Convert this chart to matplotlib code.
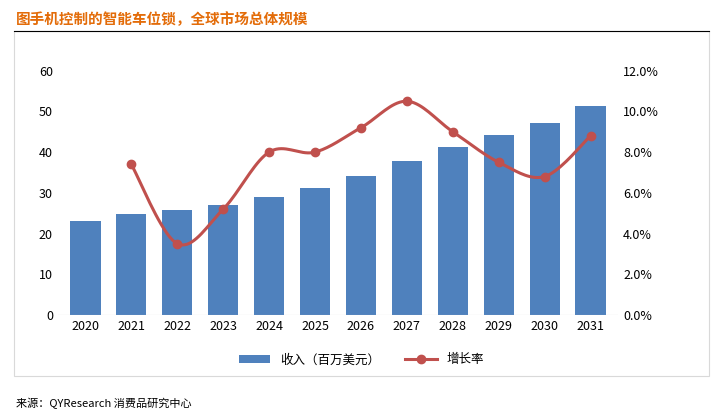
import matplotlib.pyplot as plt
import numpy as np

plt.rcParams['font.family'] = ['Noto Sans CJK SC', 'DejaVu Sans']

years = ['2020', '2021', '2022', '2023', '2024', '2025', '2026', '2027', '2028', '2029', '2030', '2031']
revenue = [23.0, 24.8, 25.8, 27.0, 29.0, 31.3, 34.2, 37.8, 41.2, 44.3, 47.2, 51.3]
growth = [7.4, 3.5, 5.2, 8.0, 8.0, 9.2, 10.5, 9.0, 7.5, 6.8, 8.8]  # % from 2021


def catmull_rom(x, y, n=20):
    # smooth curve through the points, like Excel's smoothed line
    px = np.concatenate([[x[0]], x, [x[-1]]])
    py = np.concatenate([[y[0]], y, [y[-1]]])
    xs, ys = [], []
    for i in range(1, len(px) - 2):
        t = np.linspace(0, 1, n)
        for p, out in ((px, xs), (py, ys)):
            p0, p1, p2, p3 = p[i - 1], p[i], p[i + 1], p[i + 2]
            out.extend(0.5 * (2 * p1 + (-p0 + p2) * t + (2 * p0 - 5 * p1 + 4 * p2 - p3) * t ** 2
                              + (-p0 + 3 * p1 - 3 * p2 + p3) * t ** 3))
    return np.array(xs), np.array(ys)


fig = plt.figure(figsize=(7.23, 4.16), dpi=100)
ax = fig.add_axes([0.08, 0.243, 0.775, 0.587])
x = np.arange(len(years))
ax.bar(x, revenue, width=0.66, color='#4f81bd', label='收入（百万美元）', zorder=2)
ax.set_ylim(0, 60)
ax.set_yticks(range(0, 61, 10))
ax.set_xlim(-0.6, len(years) - 0.4)
ax.set_xticks(x)
ax.set_xticklabels(years)
ax.tick_params(length=0, labelsize=9)
for s in ax.spines.values():
    s.set_visible(False)
ax.axhline(0, color='#bfbfbf', lw=0.8)

ax2 = ax.twinx()
gx = x[1:]
sx, sy = catmull_rom(gx.astype(float), np.array(growth))
ax2.plot(sx, sy, color='#c0504d', lw=2.2, zorder=3)
ax2.plot(gx, growth, 'o', color='#c0504d', ms=6, zorder=4)
ax2.set_ylim(0, 12)
ax2.set_yticks(np.arange(0, 12.1, 2))
ax2.set_yticklabels([f'{v:.1f}%' for v in np.arange(0, 12.1, 2)])
ax2.tick_params(length=0, labelsize=9)
for s in ax2.spines.values():
    s.set_visible(False)
ax2.plot([], [], '-o', color='#c0504d', lw=2.2, ms=6, label='增长率')

h1, l1 = ax.get_legend_handles_labels()
h2, l2 = ax2.get_legend_handles_labels()
fig.legend(h1 + h2, l1 + l2, loc='center', bbox_to_anchor=(0.5, 0.135), ncol=2,
           frameon=False, fontsize=9, handlelength=2.5)

# outer chart frame
fig.patches.append(plt.Rectangle((0.02, 0.095), 0.96, 0.83, transform=fig.transFigure,
                                 fill=False, ec='#d9d9d9', lw=0.8))
fig.text(0.022, 0.955, '图手机控制的智能车位锁，全球市场总体规模', color='#e36c09',
         fontsize=10.5, fontweight='bold', va='center')
fig.add_artist(plt.Line2D([0.02, 0.98], [0.925, 0.925], color='black', lw=0.8))
fig.text(0.022, 0.03, '来源：QYResearch 消费品研究中心', fontsize=8, style='italic', va='center')

fig.savefig('out.png')
